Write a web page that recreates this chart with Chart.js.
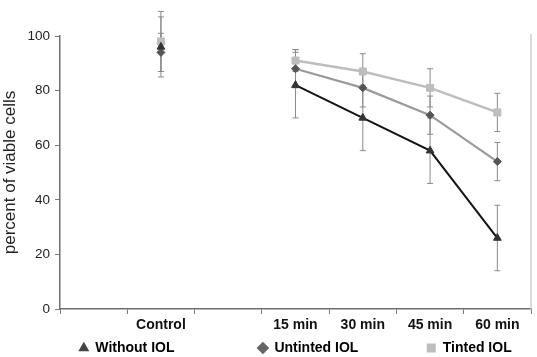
<!DOCTYPE html>
<html>
<head>
<meta charset="utf-8">
<script src="https://cdn.jsdelivr.net/npm/chart.js@4/dist/chart.umd.min.js"></script>
<style>
  html, body { margin: 0; padding: 0; background: #fff; }
  #wrap { width: 537px; height: 357px; }
</style>
</head>
<body>
<div id="wrap"><canvas id="c" width="537" height="357"></canvas></div>
<script>
// ---- data ----
const categories = ['', 'Control', '', '15 min', '30 min', '45 min', '60 min'];
const withoutIOL = [null, 96, null, 82, 70, 58, 26];
const withoutErr = [null, 11, null, 12, 12, 12, 12];
const untintedIOL = [null, 94, null, 88, 81, 71, 54];
const untintedErr = [null, 7, null, 7, 7, 7, 7];
const tintedIOL = [null, 98, null, 91, 87, 81, 72];
const tintedErr = [null, 11, null, 4, 6.5, 7, 7];
const yTicks = [0, 20, 40, 60, 80, 100];
const seriesNames = ['Without IOL', 'Untinted IOL', 'Tinted IOL'];
const legendGaps = [19, 15, 0]; // trailing spacing (in spaces) after each legend entry

const errorBars = {
  id: 'errorBars',
  beforeDatasetsDraw(chart) {
    const ctx = chart.ctx;
    const y = chart.scales.y;
    ctx.save();
    ctx.strokeStyle = '#8a8a8a';
    ctx.lineWidth = 1;
    chart.data.datasets.forEach((ds, di) => {
      const meta = chart.getDatasetMeta(di);
      ds.errors.forEach((e, i) => {
        const v = ds.data[i];
        if (v == null || e == null) return;
        const px = meta.data[i].x;
        const top = y.getPixelForValue(v + e);
        const bot = y.getPixelForValue(v - e);
        ctx.beginPath();
        ctx.moveTo(px, top); ctx.lineTo(px, bot);
        ctx.moveTo(px - 3, top); ctx.lineTo(px + 3, top);
        ctx.moveTo(px - 3, bot); ctx.lineTo(px + 3, bot);
        ctx.stroke();
      });
    });
    ctx.restore();
  }
};

const rightBorder = {
  id: 'rightBorder',
  afterDraw(chart) {
    const a = chart.chartArea, ctx = chart.ctx;
    ctx.save();
    ctx.strokeStyle = '#cfcfcf';
    ctx.lineWidth = 1.5;
    ctx.beginPath();
    ctx.moveTo(a.right, a.top - 2);
    ctx.lineTo(a.right, a.bottom);
    ctx.stroke();
    ctx.restore();
  }
};

const font = "'Liberation Sans', Arial, sans-serif";

new Chart(document.getElementById('c'), {
  type: 'line',
  data: {
    labels: categories,
    datasets: [
      {
        label: seriesNames[0], data: withoutIOL, errors: withoutErr,
        borderColor: '#141414', borderWidth: 2,
        pointStyle: 'triangle', pointRadius: 4.5,
        pointBackgroundColor: '#333', pointBorderColor: '#333', pointBorderWidth: 1,
        spanGaps: false, tension: 0, order: 1
      },
      {
        label: seriesNames[1], data: untintedIOL, errors: untintedErr,
        borderColor: '#9a9a9a', borderWidth: 2.2,
        pointStyle: 'rectRot', pointRadius: 4,
        pointBackgroundColor: '#555', pointBorderColor: '#555', pointBorderWidth: 1,
        spanGaps: false, tension: 0, order: 2
      },
      {
        label: seriesNames[2], data: tintedIOL, errors: tintedErr,
        borderColor: '#bdbdbd', borderWidth: 2.5,
        pointStyle: 'rect', pointRadius: 5,
        pointBackgroundColor: '#bdbdbd', pointBorderColor: '#bdbdbd', pointBorderWidth: 1,
        spanGaps: false, tension: 0, order: 3
      }
    ]
  },
  options: {
    responsive: false,
    animation: false,
    devicePixelRatio: 1,
    layout: { padding: { top: 36, right: 5, left: 0, bottom: -8 } },
    plugins: {
      tooltip: { enabled: false },
      legend: {
        position: 'bottom',
        fullSize: false,
        labels: {
          usePointStyle: true,
          boxWidth: 9, boxHeight: 9,
          padding: 10,
          color: '#111',
          font: { family: font, size: 14, weight: 'bold' },
          generateLabels(chart) {
            return chart.data.datasets.map((ds, i) => ({
              text: ds.label + ' '.repeat(legendGaps[i]),
              fillStyle: ['#444', '#666', '#bdbdbd'][i],
              strokeStyle: ['#444', '#666', '#bdbdbd'][i],
              lineWidth: 0,
              pointStyle: ds.pointStyle,
              datasetIndex: i,
              hidden: false
            }));
          }
        }
      }
    },
    scales: {
      x: {
        type: 'category',
        offset: true,
        grid: { display: true, offset: true, drawOnChartArea: false, drawTicks: true, tickLength: 5, color: '#777' },
        border: { display: true, color: '#6e6e6e', width: 1.5 },
        ticks: { color: '#111', font: { family: font, size: 14, weight: 'bold' }, padding: 3, maxRotation: 0, autoSkip: false },
        afterFit(scale) { scale.height = 22; }
      },
      y: {
        min: 0, max: 100,
        afterBuildTicks(scale) { scale.ticks = yTicks.map(v => ({ value: v })); },
        grid: { display: true, drawOnChartArea: false, drawTicks: true, tickLength: 5, color: '#777' },
        border: { display: true, color: '#6e6e6e', width: 1.5 },
        ticks: { color: '#222', font: { family: font, size: 13.5 }, padding: 5 },
        title: { display: true, text: 'percent of viable cells', color: '#222', font: { family: font, size: 17 }, padding: 0 },
        afterFit(scale) { scale.width = 60; }
      }
    }
  },
  plugins: [errorBars, rightBorder]
});
</script>
</body>
</html>
